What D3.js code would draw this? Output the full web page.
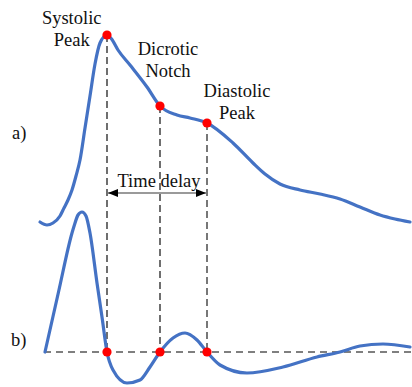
<!DOCTYPE html>
<html>
<head>
<meta charset="utf-8">
<script src="https://cdn.jsdelivr.net/npm/d3@7"></script>
<style>
  html, body { margin: 0; padding: 0; background: #fff; }
  svg { display: block; }
</style>
</head>
<body>
<svg id="chart" width="412" height="387"></svg>
<script>
// ---- Data ----
// (a) pressure pulse waveform: time (arb. units) and amplitude
const aTime  = [0, 1.75, 3.25, 5, 6, 7, 8, 9, 10, 11.25, 12.5, 13.75, 15, 16.75, 17.9, 19.5, 22.5, 26.75, 30, 34.25, 37.5, 41.75, 48.25, 53.25, 56.25, 60, 65, 70, 75, 80, 85, 88.75, 92.5];
const aValue = [1.5, 0, 1, 4.5, 8.5, 12.5, 17.5, 24.5, 32.5, 48.5, 64.5, 80.5, 91, 95, 93, 87.5, 80, 69, 59.5, 55, 53.5, 51, 41, 31, 25.5, 20.5, 17.5, 15.5, 13, 9, 5, 3, 1.5];
// (b) derivative waveform
const bTime  = [1.25, 4.6, 8, 8.6, 9.5, 10.5, 11.5, 12.5, 14.25, 15.5, 16.75, 18.25, 21.75, 25, 27.5, 30, 33.25, 36.25, 39.25, 41.75, 45, 51.75, 60.75, 69.25, 75, 80, 85.75, 92.5];
const bValue = [0, 29.75, 59.5, 63.5, 68.5, 70, 68, 59.5, 34.5, 17.5, 0, -9, -15.5, -14, -7.5, 0, 7, 9.5, 6, 0, -6.5, -10.5, -7.5, -2.5, 0, 3, 4, 2.5];
// feature markers
const markerNames  = ["Systolic Peak", "Dicrotic Notch", "Diastolic Peak"];
const markerTime   = [16.75, 30, 41.75];
const markerAValue = [95, 59.5, 51];
const baselineSpan = [1, 93];
const delayLabel = "Time delay";
const panelLabels = ["a)", "b)"];

// ---- pick an installed serif font ----
function pickSerif() {
  const cands = ["Liberation Serif", "Times New Roman", "Tinos", "DejaVu Serif", "Noto Serif", "FreeSerif", "Nimbus Roman", "Times"];
  const c = document.createElement("canvas").getContext("2d");
  const s = "Systolic Peak Time delay WMmli";
  const base = {};
  ["monospace", "sans-serif"].forEach(b => { c.font = "40px " + b; base[b] = c.measureText(s).width; });
  for (const f of cands) {
    let ok = false;
    for (const b of ["monospace", "sans-serif"]) {
      c.font = "40px '" + f + "', " + b;
      if (Math.abs(c.measureText(s).width - base[b]) > 0.5) ok = true;
    }
    if (ok) return "'" + f + "', serif";
  }
  return "serif";
}
const FONT = pickSerif();

// ---- Scales ----
const x  = d3.scaleLinear().domain([0, 93]).range([40, 412]);
const ya = d3.scaleLinear().domain([0, 95]).range([225, 35]);
const yb = d3.scaleLinear().domain([-20, 70]).range([392, 212]);

const svg = d3.select("#chart");
const blue = "#4472C4";

// arrow marker defs
const defs = svg.append("defs");
["start", "end"].forEach(k => {
  defs.append("marker")
    .attr("id", "arr-" + k)
    .attr("viewBox", "0 0 10 8")
    .attr("refX", k === "end" ? 10 : 0).attr("refY", 4)
    .attr("markerWidth", 10).attr("markerHeight", 8)
    .attr("markerUnits", "userSpaceOnUse")
    .attr("orient", "auto")
    .append("path")
    .attr("d", k === "end" ? "M0,0 L10,4 L0,8 Z" : "M10,0 L0,4 L10,8 Z")
    .attr("fill", "#000");
});

// baseline of (b)
svg.append("line")
  .attr("x1", x(baselineSpan[0])).attr("x2", x(baselineSpan[1]))
  .attr("y1", yb(0)).attr("y2", yb(0))
  .attr("stroke", "#555").attr("stroke-width", 1.4)
  .attr("stroke-dasharray", "7,5");

// vertical dashed lines
const vColors = ["#222", "#222", "#777"];
const vWidths = [1.3, 1.3, 2];
markerTime.forEach((t, i) => {
  svg.append("line")
    .attr("x1", x(t)).attr("x2", x(t))
    .attr("y1", ya(markerAValue[i])).attr("y2", yb(0))
    .attr("stroke", vColors[i]).attr("stroke-width", vWidths[i])
    .attr("stroke-dasharray", "7,4");
});

// curves
const lineA = d3.line().x((d, i) => x(aTime[i])).y((d, i) => ya(aValue[i])).curve(d3.curveMonotoneX);
const lineB = d3.line().x((d, i) => x(bTime[i])).y((d, i) => yb(bValue[i])).curve(d3.curveMonotoneX);
svg.append("path").datum(aTime).attr("d", lineA)
  .attr("fill", "none").attr("stroke", blue).attr("stroke-width", 3.2).attr("stroke-linecap", "round");
svg.append("path").datum(bTime).attr("d", lineB)
  .attr("fill", "none").attr("stroke", blue).attr("stroke-width", 3.2).attr("stroke-linecap", "round");

// time delay arrow
const arrowY = 193;
svg.append("line")
  .attr("x1", x(markerTime[0]) + 1).attr("x2", x(markerTime[2]) - 1)
  .attr("y1", arrowY).attr("y2", arrowY)
  .attr("stroke", "#9a9a9a").attr("stroke-width", 2)
  .attr("marker-start", "url(#arr-start)").attr("marker-end", "url(#arr-end)");
svg.append("text")
  .attr("x", (x(markerTime[0]) + x(markerTime[2])) / 2 + 2).attr("y", 187)
  .attr("text-anchor", "middle").attr("font-size", 18.5)
  .style("font-family", FONT).attr("fill", "#111")
  .text(delayLabel);

// dots
markerTime.forEach((t, i) => {
  svg.append("circle").attr("cx", x(t)).attr("cy", ya(markerAValue[i])).attr("r", 4.6).attr("fill", "#ff0000");
  svg.append("circle").attr("cx", x(t)).attr("cy", yb(0)).attr("r", 4.6).attr("fill", "#ff0000");
});

// marker labels
const labelPos = [[71.7, 24], [168, 55], [237, 97]];
markerNames.forEach((name, i) => {
  const parts = name.split(" ");
  const t = svg.append("text")
    .attr("text-anchor", "middle").attr("font-size", 18.5)
    .style("font-family", FONT).attr("fill", "#111");
  parts.forEach((p, j) => {
    t.append("tspan").attr("x", labelPos[i][0]).attr("y", labelPos[i][1] + j * 22).text(p);
  });
});

// panel labels
svg.append("text").attr("x", 12).attr("y", 139).attr("font-size", 18.5)
  .style("font-family", FONT).attr("fill", "#111").text(panelLabels[0]);
svg.append("text").attr("x", 11).attr("y", 346).attr("font-size", 18.5)
  .style("font-family", FONT).attr("fill", "#111").text(panelLabels[1]);
</script>
</body>
</html>
